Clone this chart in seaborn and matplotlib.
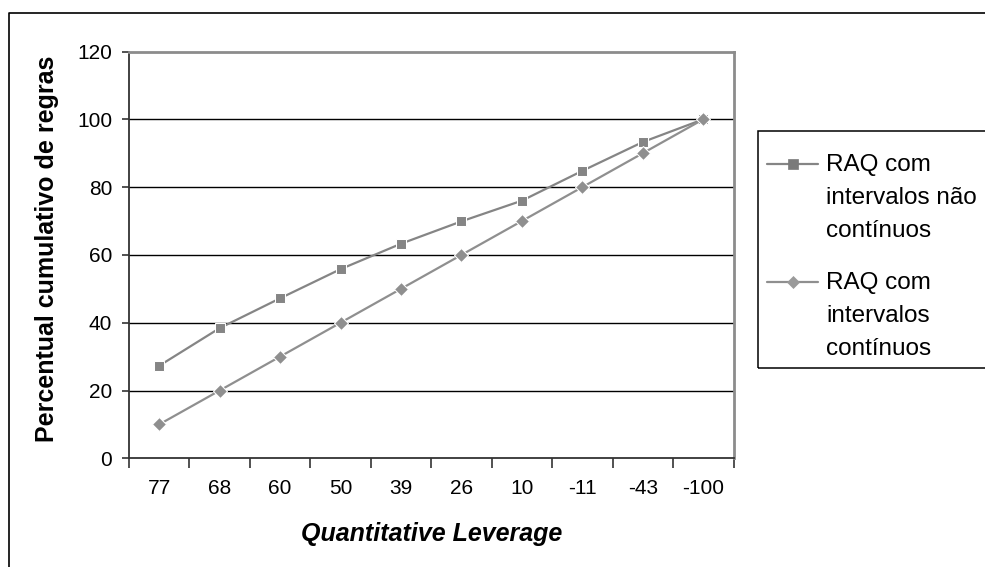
import matplotlib
matplotlib.use("Agg")
import numpy as np
import matplotlib.pyplot as plt
import seaborn as sns
import pandas as pd
from matplotlib.lines import Line2D
from matplotlib.patches import Rectangle
from matplotlib.legend_handler import HandlerLine2D

# Data
leverage = ["77", "68", "60", "50", "39", "26", "10", "-11", "-43", "-100"]
nao_continuos = [27.3, 38.4, 47.2, 55.8, 63.3, 69.9, 76.0, 84.8, 93.3, 100.0]
continuos = [10, 20, 30, 40, 50, 60, 70, 80, 90, 100]
series_names = ["RAQ com\nintervalos não\ncontínuos", "RAQ com\nintervalos\ncontínuos"]
y_ticks = [0, 20, 40, 60, 80, 100, 120]

df = pd.DataFrame({
    "Leverage": leverage * 2,
    "Percentual": nao_continuos + continuos,
    "Serie": [series_names[0]] * len(leverage) + [series_names[1]] * len(leverage),
})

sns.set_theme(style="white")
plt.rcParams["font.family"] = ["Liberation Sans", "DejaVu Sans"]

W, H = 985, 567
fig = plt.figure(figsize=(W / 100, H / 100), dpi=100)
fig.patch.set_facecolor("white")


def px(x, y):
    """Pixel position (from top-left) to figure fraction."""
    return x / W, 1 - y / H


# plot area in pixel terms
left, top, right, bottom = 129, 51.5, 733.5, 458.3
ax = fig.add_axes([left / W, (H - bottom) / H, (right - left) / W, (bottom - top) / H])
ax.set_facecolor("white")

# horizontal gridlines
for v in y_ticks[1:-1]:
    ax.axhline(v, color="black", lw=1.0, zorder=1)

sns.lineplot(
    data=df, x="Leverage", y="Percentual", hue="Serie", style="Serie",
    palette=["#858585", "#8f8f8f"], markers=["s", "D"], dashes=False,
    markersize=7, linewidth=1.6, ax=ax, zorder=3, sort=False,
)
marker_style = [("#7a7a7a", 7.5), ("#9a9a9a", 6.2)]
for line, (fc, ms) in zip(ax.get_lines()[-2:], marker_style):
    line.set_markerfacecolor(fc)
    line.set_markeredgecolor(fc)
    line.set_markeredgewidth(0.5)
    line.set_markersize(ms)

n = len(leverage)
ax.set_xlim(-0.5, n - 0.5)
ax.set_ylim(0, 120)

# category boundaries carry the tick marks, labels sit in the middle
ax.set_xticks([i - 0.5 for i in range(n + 1)])
ax.set_xticklabels([])
ax.set_xticks(list(range(n)), minor=True)
ax.set_xticklabels(leverage, minor=True)
ax.tick_params(axis="x", which="major", direction="out", length=7, width=1.2, color="#333333", bottom=True)
ax.tick_params(axis="x", which="minor", length=0, pad=15, labelsize=15, labelcolor="black")

ax.set_yticks(y_ticks)
ax.set_yticklabels([str(v) for v in y_ticks])
ax.tick_params(axis="y", direction="out", length=5, width=1.2, color="#333333", left=True, pad=7,
               labelsize=15, labelcolor="black")

for side in ["left", "bottom"]:
    ax.spines[side].set_color("#333333")
    ax.spines[side].set_linewidth(1.3)
for side in ["top", "right"]:
    ax.spines[side].set_color("#8c8c8c")
    ax.spines[side].set_linewidth(2.0)

ax.set_xlabel("")
ax.set_ylabel("")
fig.text(*px(47, 249), "Percentual cumulativo de regras", rotation=90,
         ha="center", va="center", fontsize=18, fontweight="bold", color="black")
fig.text(*px(432, 534), "Quantitative Leverage", ha="center", va="center",
         fontsize=18, fontweight="bold", fontstyle="italic", color="black")


class FirstLineHandler(HandlerLine2D):
    """Legend line drawn level with the first line of a multi-line label."""

    def __init__(self, shift, **kw):
        super().__init__(**kw)
        self.shift = shift

    def create_artists(self, legend, orig_handle, xdescent, ydescent, width, height, fontsize, trans):
        artists = super().create_artists(legend, orig_handle, xdescent, ydescent,
                                         width, height, fontsize, trans)
        for a in artists:
            a.set_ydata(np.asarray(a.get_ydata(), dtype=float) + self.shift)
        return artists


# legend
handles, labels = ax.get_legend_handles_labels()
ax.get_legend().remove()
leg_fs = 17.5
leg = fig.legend(
    handles, labels, loc="upper left", bbox_to_anchor=px(767, 154),
    bbox_transform=fig.transFigure, frameon=False,
    fontsize=leg_fs, handlelength=2.1, handletextpad=0.33, labelspacing=1.2,
    borderpad=0, borderaxespad=0,
    handler_map={h: FirstLineHandler(24.5) for h in handles},
)
for t in leg.get_texts():
    t.set_linespacing(1.66)
    t.set_multialignment("left")
    t.set_color("black")

# legend frame, running past the right edge
x0, y0 = px(758, 368)
fig.add_artist(Rectangle((x0, y0), 1.05 - x0, (368 - 131) / H, transform=fig.transFigure,
                         fill=False, edgecolor="black", lw=1.1, clip_on=False))

# outer chart border (left and top edges)
fig.add_artist(Line2D([9 / W, 9 / W, 1.0], [0.0, 1 - 13 / H, 1 - 13 / H],
                      transform=fig.transFigure, color="black", lw=1.2))

fig.savefig("out.png", dpi=100, facecolor="white")
